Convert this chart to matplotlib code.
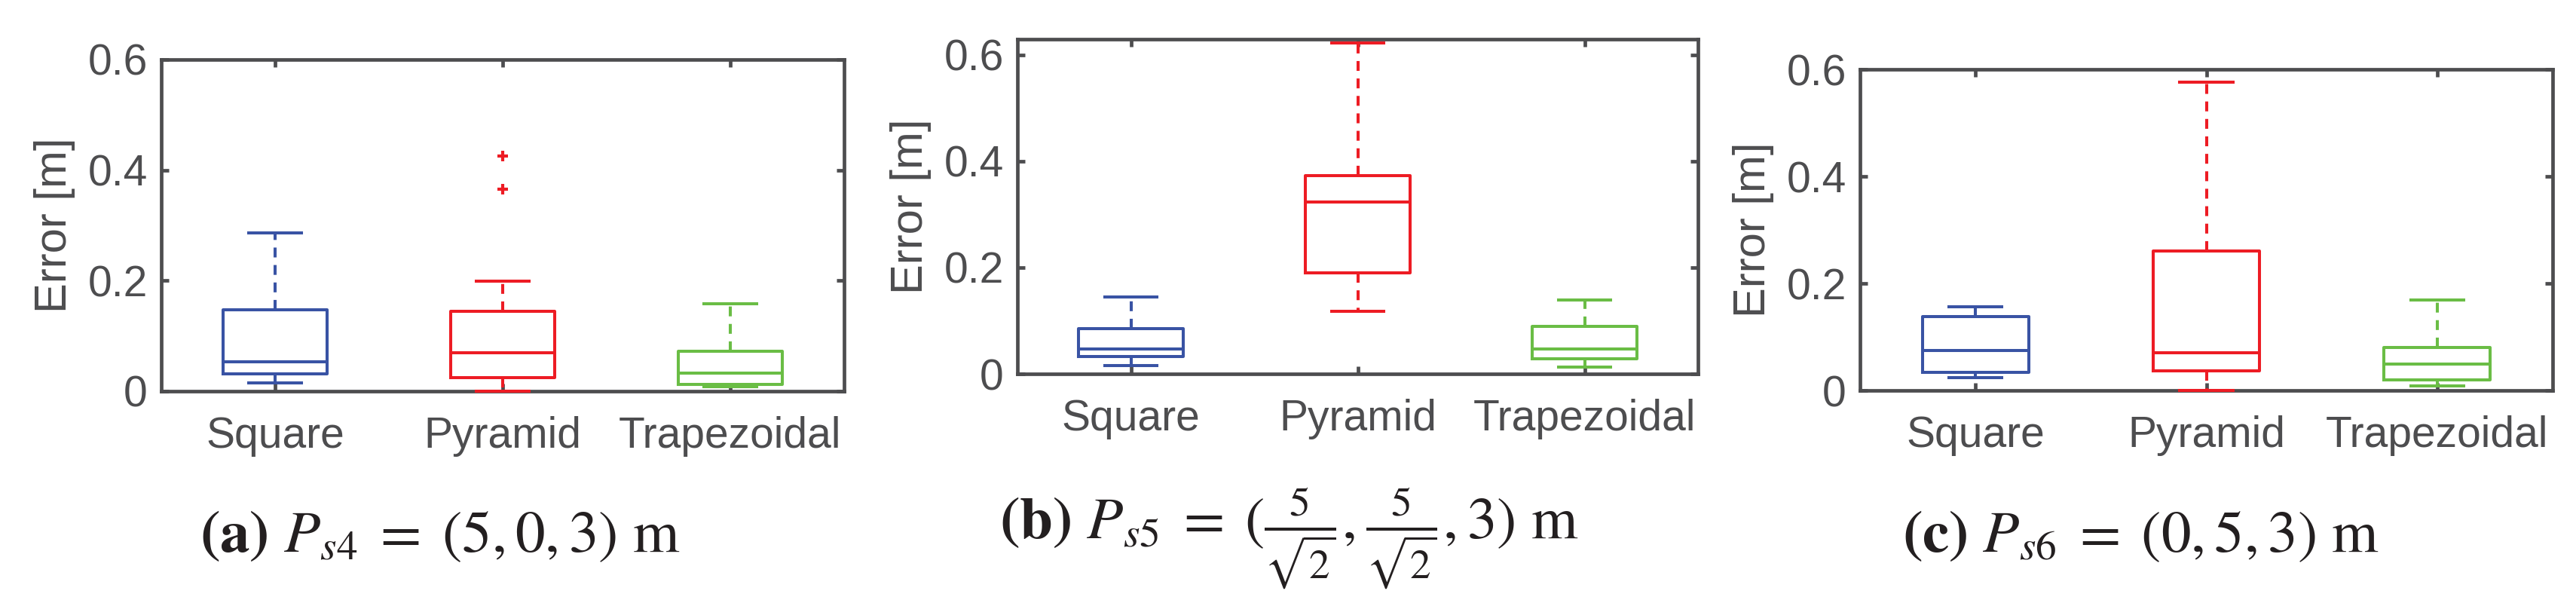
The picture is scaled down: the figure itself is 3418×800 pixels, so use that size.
import matplotlib
matplotlib.use("Agg")
import matplotlib.pyplot as plt

plt.rcParams['font.family'] = ['Liberation Sans', 'DejaVu Sans']
plt.rcParams['mathtext.fontset'] = 'stix'

# data
categories = ["Square", "Pyramid", "Trapezoidal"]
yticks = [0, 0.2, 0.4, 0.6]
ytick_labels = ["0", "0.2", "0.4", "0.6"]

# (a) Ps4
a_whislo = [0.015, 0.0, 0.008]
a_q1 = [0.031, 0.024, 0.012]
a_med = [0.053, 0.070, 0.033]
a_q3 = [0.147, 0.145, 0.072]
a_whishi = [0.286, 0.199, 0.158]
a_fliers = [[], [0.365, 0.425], []]

# (b) Ps5
b_whislo = [0.015, 0.117, 0.013]
b_q1 = [0.032, 0.190, 0.028]
b_med = [0.047, 0.323, 0.047]
b_q3 = [0.085, 0.373, 0.089]
b_whishi = [0.144, 0.623, 0.139]
b_fliers = [[], [], []]

# (c) Ps6
c_whislo = [0.024, 0.0, 0.009]
c_q1 = [0.034, 0.037, 0.020]
c_med = [0.075, 0.070, 0.050]
c_q3 = [0.138, 0.260, 0.080]
c_whishi = [0.157, 0.576, 0.169]
c_fliers = [[], [], []]

captions = [r"$\mathbf{(a)}\ P_{s4}\;=\;(5,0,3)\ \mathrm{m}$",
            r"$\mathbf{(b)}\ P_{s5}\;=\;(\frac{5}{\sqrt{2}},\frac{5}{\sqrt{2}},3)\ \mathrm{m}$",
            r"$\mathbf{(c)}\ P_{s6}\;=\;(0,5,3)\ \mathrm{m}$"]

colors = ['#3953A4', '#ED1C24', '#6ABD45']
gray = '#4D4D4F'

W, H = 3418, 800
fig = plt.figure(figsize=(W / 100, H / 100), dpi=100)

# axes boxes in pixels: left, top, right, bottom
boxes = [(214, 79, 1120, 519), (1350, 52, 2253, 496), (2468, 92, 3387, 518)]
ylims = [0.6, 0.6295, 0.6]
cap_pos = [(584, 732), (1710, 714), (2840, 732)]

panels = [
    (a_whislo, a_q1, a_med, a_q3, a_whishi, a_fliers),
    (b_whislo, b_q1, b_med, b_q3, b_whishi, b_fliers),
    (c_whislo, c_q1, c_med, c_q3, c_whishi, c_fliers),
]

lw = 2.9
for i, (lo, q1, med, q3, hi, fl) in enumerate(panels):
    l, t, r, b = boxes[i]
    ax = fig.add_axes([l / W, 1 - b / H, (r - l) / W, (b - t) / H])
    for j in range(3):
        st = [{'whislo': lo[j], 'q1': q1[j], 'med': med[j], 'q3': q3[j],
               'whishi': hi[j], 'fliers': fl[j]}]
        c = colors[j]
        arts = ax.bxp(st, positions=[j + 1], widths=0.46, capwidths=0.23,
                      boxprops=dict(color=c, lw=lw),
                      medianprops=dict(color=c, lw=lw),
                      whiskerprops=dict(color=c, lw=lw, linestyle=(0, (3.25, 2.5))),
                      capprops=dict(color=c, lw=lw),
                      flierprops=dict(marker='+', markeredgecolor=c, markersize=10,
                                      markeredgewidth=3),
                      manage_ticks=False)
        for k in arts:
            for a in arts[k]:
                a.set_clip_on(False)
                a.set_zorder(3)
    ax.set_xlim(0.5, 3.5)
    ax.set_ylim(0, ylims[i])
    ax.set_xticks([1, 2, 3])
    ax.set_xticklabels(categories)
    ax.set_yticks(yticks)
    ax.set_yticklabels(ytick_labels)
    for s in ax.spines.values():
        s.set_color(gray)
        s.set_linewidth(3.4)
    ax.tick_params(direction='in', top=True, right=True, length=7, width=3.4,
                   color=gray, labelcolor=gray, labelsize=41)
    ax.tick_params(axis='x', pad=24)
    ax.tick_params(axis='y', pad=13)
    ax.set_ylabel("Error [m]", fontsize=43, color=gray)
    ax.yaxis.set_label_coords(-141 / (r - l), 0.5)
    ax.yaxis.label.set_verticalalignment('center')
    fig.text(cap_pos[i][0] / W, 1 - cap_pos[i][1] / H, captions[i], fontsize=57,
             ha='center', va='baseline', color='#231F20')

fig.savefig("out.png", dpi=100)
